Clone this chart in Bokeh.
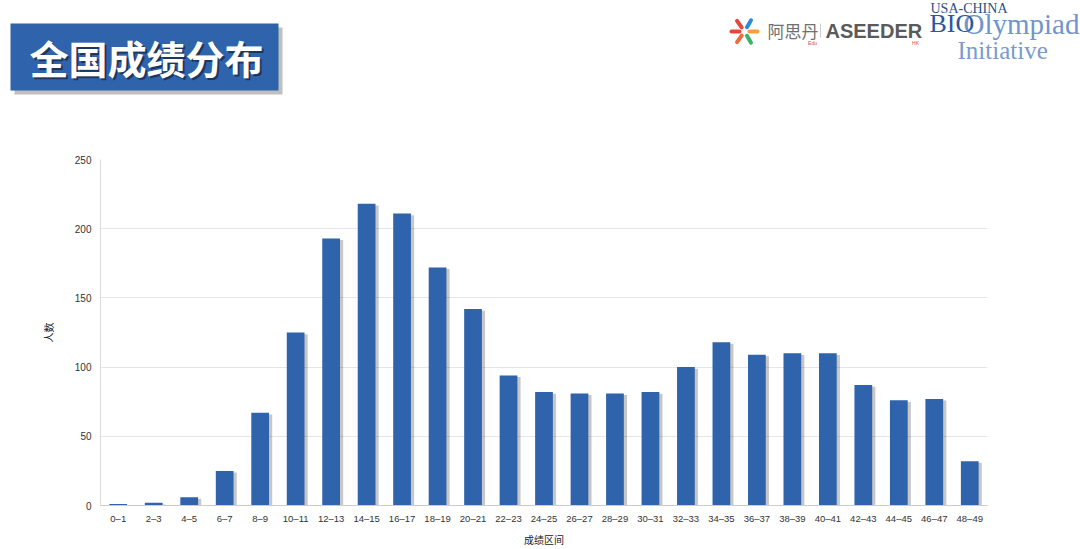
import numpy as np
from bokeh.plotting import figure
from bokeh.layouts import column
from bokeh.models import Range1d, FactorRange, FixedTicker, ColumnDataSource
from bokeh.transform import dodge
from bokeh.core.properties import value
from bokeh.embed import file_html
from bokeh.resources import INLINE

# ---------------- data ----------------
categories = ["0–1", "2–3", "4–5", "6–7", "8–9", "10–11", "12–13", "14–15", "16–17",
              "18–19", "20–21", "22–23", "24–25", "26–27", "28–29", "30–31", "32–33",
              "34–35", "36–37", "38–39", "40–41", "42–43", "44–45", "46–47", "48–49"]
counts = [1, 2, 6, 25, 67, 125, 193, 218, 211, 172, 142, 94, 82, 81, 81, 82, 100,
          118, 109, 110, 110, 87, 76, 77, 32]
y_ticks = [0, 50, 100, 150, 200, 250]

title_text = "全国成绩分布"
x_label = "成绩区间"
y_label = "人数"

BLUE = "#2f63ab"
W = 1080
HH = 130

# ---------------- header ----------------
h = figure(width=W, height=HH, output_backend="svg", toolbar_location=None,
           x_range=Range1d(0, W), y_range=Range1d(HH, 0),
           min_border=0, min_border_left=0, min_border_right=0,
           min_border_top=0, min_border_bottom=0)
h.frame_align = False
h.axis.visible = False
h.grid.visible = False
h.outline_line_color = None


def t(x, y, text, color, font, size, style="normal", align="left", alpha=1.0, angle=0):
    h.text(x=[x], y=[y], text=[text], text_color=color, text_alpha=alpha,
           text_font=value(font), text_font_size=size, text_font_style=style,
           angle=angle, text_align=align, text_baseline="middle")


# title box with shadow
h.quad(left=[14], right=[282], top=[27], bottom=[94], fill_color="#8a8a8a",
       fill_alpha=0.55, line_color=None)
h.quad(left=[10], right=[278], top=[23], bottom=[90], fill_color=BLUE, line_color=None)
t(148, 58, title_text, "#14223c", "Noto Sans CJK SC", "39px", "bold", "center", 0.7)
t(146, 56, title_text, "white", "Noto Sans CJK SC", "39px", "bold", "center")

# asterisk logo
cx, cy = 744, 31
arm_angles = [180, 0, 60, 125, 235, 300]
arm_cols = ["#e8453c", "#f5a03a", "#2d8ad8", "#e8453c", "#f06a3a", "#3bb36a"]
for a, c in zip(arm_angles, arm_cols):
    r = np.deg2rad(a)
    h.segment(x0=[cx + 5 * np.cos(r)], y0=[cy - 5 * np.sin(r)],
              x1=[cx + 13 * np.cos(r)], y1=[cy - 13 * np.sin(r)],
              line_color=c, line_width=4, line_cap="round")

t(767, 30, "阿思丹", "#707070", "Noto Sans CJK SC", "17px")
h.segment(x0=[820], y0=[23], x1=[820], y1=[37], line_color="#cccccc", line_width=1)
t(812, 42, "Edu", "#e8453c", "Liberation Sans", "5px", align="center")
t(825, 30, "ASEEDER", "#5a5a5a", "Liberation Sans", "20px", "bold")
t(915, 42, "HK", "#e8453c", "Liberation Sans", "5px", align="center")
t(930, 8, "USA-CHINA", "#2b4f8c", "Liberation Serif", "14px")
t(963, 23, "Olympiad", "#7094cc", "Liberation Serif", "29px")
t(929, 23, "BIO", "#2a58a0", "Liberation Serif", "26px")
t(957, 50, "Initiative", "#7a9bd0", "Liberation Serif", "25px")

# ---------------- chart ----------------
src = ColumnDataSource(dict(cat=categories, n=counts,
                            shadow=list(np.maximum(np.array(counts) - 1.2, 0))))
p = figure(width=W, height=549 - HH, output_backend="svg", toolbar_location=None,
           x_range=FactorRange(*categories), y_range=Range1d(0, 250),
           min_border_left=100, min_border_right=93, min_border_top=29, min_border_bottom=43)
p.frame_align = False
p.outline_line_color = None

p.vbar(x=dodge("cat", 0.09, range=p.x_range), top="shadow", width=0.5, source=src,
       fill_color="#000000", fill_alpha=0.22, line_color=None)
p.vbar(x="cat", top="n", width=0.5, source=src, fill_color=BLUE, line_color=None)

p.xgrid.visible = False
p.ygrid.grid_line_color = "#e6e6e6"
p.yaxis.ticker = FixedTicker(ticks=y_ticks)

for ax in (p.xaxis, p.yaxis):
    ax.major_tick_line_color = None
    ax.minor_tick_line_color = None
    ax.major_label_text_font = "Liberation Sans"
    ax.major_label_text_color = "#333333"
    ax.axis_label_text_font = "Noto Sans CJK SC"
    ax.axis_label_text_font_size = "10px"
    ax.axis_label_text_font_style = "normal"
    ax.axis_label_text_color = "#222222"

p.xaxis.major_label_text_font_size = "9.5px"
p.yaxis.major_label_text_font_size = "10px"
p.yaxis.axis_line_color = "#d9d9d9"
p.xaxis.axis_line_color = "#cccccc"
p.yaxis.major_label_standoff = 3
p.xaxis.major_label_standoff = 1
p.yaxis.axis_label = y_label
p.xaxis.axis_label = x_label
p.yaxis.axis_label_standoff = 16
p.xaxis.axis_label_standoff = 5

layout = column(h, p, spacing=0)
open("out.html", "w").write(file_html(layout, INLINE))
